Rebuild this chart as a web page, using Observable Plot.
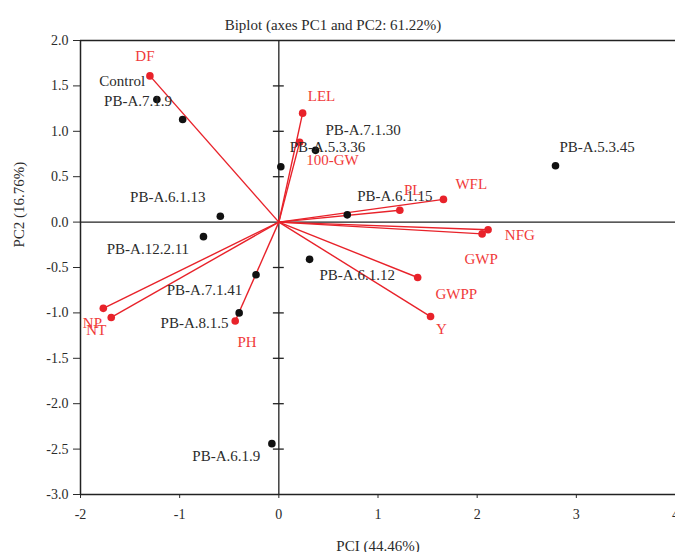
<!DOCTYPE html>
<html><head><meta charset="utf-8">
<script src="https://cdn.jsdelivr.net/npm/d3@7"></script>
<script src="https://cdn.jsdelivr.net/npm/@observablehq/plot@0.6"></script>
<style>body{margin:0;background:#fff} svg{display:block}</style>
</head><body><div id="chart"></div>
<script>
const titleText = "Biplot (axes PC1 and PC2: 61.22%)";
const xLabel = "PCI (44.46%)";
const yLabel = "PC2 (16.76%)";

const varNames  = ["DF","LEL","100-GW","PL","WFL","NFG","GWP","GWPP","Y","NP","NT","PH"];
const varPC1    = [-1.30, 0.24, 0.21, 1.22, 1.66, 2.11, 2.05, 1.40, 1.53, -1.77, -1.69, -0.44];
const varPC2    = [ 1.61, 1.20, 0.88, 0.13, 0.25, -0.085, -0.13, -0.61, -1.04, -0.95, -1.05, -1.09];
const varLabelX = [-1.35, 0.43, 0.54, 1.35, 1.94, 2.43, 2.04, 1.79, 1.64, -1.88, -1.84, -0.32];
const varLabelY = [ 1.83, 1.39, 0.68, 0.35, 0.42, -0.14, -0.41, -0.79, -1.18, -1.11, -1.19, -1.32];

const obsNames  = ["Control","PB-A.7.1.9","PB-A.7.1.30","PB-A.5.3.36","PB-A.5.3.45","PB-A.6.1.15","PB-A.6.1.13","PB-A.12.2.11","PB-A.6.1.12","PB-A.7.1.41","PB-A.8.1.5","PB-A.6.1.9"];
const obsPC1    = [-1.23, -0.97, 0.37, 0.02, 2.79, 0.69, -0.59, -0.76, 0.31, -0.23, -0.40, -0.07];
const obsPC2    = [ 1.35,  1.13, 0.79, 0.61, 0.62, 0.08, 0.065, -0.16, -0.41, -0.58, -1.00, -2.44];
const obsLabelX = [-1.58, -1.42, 0.85, 0.49, 3.21, 1.17, -1.12, -1.32, 0.79, -0.75, -0.85, -0.53];
const obsLabelY = [ 1.55,  1.33, 1.01, 0.82, 0.82, 0.28, 0.27, -0.30, -0.58, -0.75, -1.11, -2.58];

const xTicks = [-2,-1,0,1,2,3,4];
const yTicks = [2,1.5,1,0.5,0,-0.5,-1,-1.5,-2,-2.5,-3];

const vars = varNames.map((n,i)=>({name:n,x:varPC1[i],y:varPC2[i],lx:varLabelX[i],ly:varLabelY[i]}));
const obs  = obsNames.map((n,i)=>({name:n,x:obsPC1[i],y:obsPC2[i],lx:obsLabelX[i],ly:obsLabelY[i]}));

const red = "#e8222a";
const redText = "#f03a3a";
const ink = "#2b2b2b";

const chart = Plot.plot({
  width: 675, height: 552,
  marginLeft: 80, marginRight: 0, marginTop: 40, marginBottom: 58,
  style: {fontFamily: "'Liberation Serif', 'DejaVu Serif', serif", background: "#fff", color: ink},
  x: {domain: [-2, 4]},
  y: {domain: [-3, 2]},
  marks: [
    Plot.axisY(yTicks, {anchor: "left", tickSize: 7, tickPadding: 5, tickFormat: d => d.toFixed(1), fontSize: 14, label: null, stroke: ink}),
    Plot.axisX(xTicks, {anchor: "bottom", tickSize: 4, tickPadding: 11, tickFormat: d => String(d), fontSize: 14, label: null, stroke: ink}),
    Plot.ruleX([-2], {stroke: "#222", strokeWidth: 1.5}),
    Plot.ruleY([2], {stroke: "#222", strokeWidth: 1.5}),
    Plot.ruleY([-3], {stroke: "#222", strokeWidth: 1.5}),
    Plot.ruleY([0], {x1: -2, x2: 4, stroke: "#222", strokeWidth: 1.3}),
    Plot.ruleX([0], {stroke: "#222", strokeWidth: 1.3}),
    Plot.ruleY(yTicks.filter(d => d !== 2 && d !== -3 && d !== 0), {x1: -0.055, x2: 0.055, stroke: "#222", strokeWidth: 1.3}),
    Plot.link(vars, {x1: () => 0, y1: () => 0, x2: "x", y2: "y", stroke: red, strokeWidth: 1.4}),
    Plot.dot(vars, {x: "x", y: "y", r: 3.8, fill: red}),
    Plot.dot(obs, {x: "x", y: "y", r: 3.8, fill: "#111"}),
    Plot.text(vars, {x: "lx", y: "ly", text: "name", fill: redText, fontSize: 15, textAnchor: "middle"}),
    Plot.text(obs, {x: "lx", y: "ly", text: "name", fill: ink, fontSize: 15, textAnchor: "middle"}),
    Plot.text([titleText], {frameAnchor: "top", dx: -45, dy: -21, fontSize: 15, fill: ink}),
    Plot.text([xLabel], {frameAnchor: "bottom", dy: 56, fontSize: 15, fill: ink}),
    Plot.text([yLabel], {frameAnchor: "left", dx: -61, dy: -20, rotate: -90, fontSize: 15, fill: ink})
  ]
});
document.getElementById("chart").append(chart);
</script>
</body></html>
